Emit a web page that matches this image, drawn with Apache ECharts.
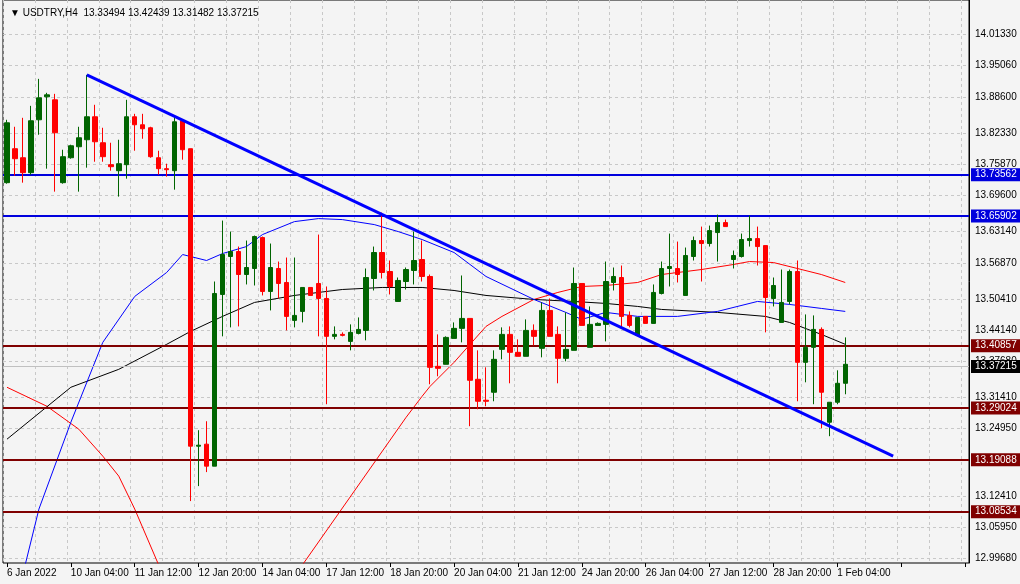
<!DOCTYPE html>
<html><head><meta charset="utf-8">
<script src="https://cdn.jsdelivr.net/npm/echarts@6/dist/echarts.min.js"></script>
<style>html,body{margin:0;padding:0;background:#f4f4f4}#c{width:1020px;height:584px}</style>
</head><body><div id="c"></div>
<script>
const openP = [13.7245,13.7900,13.7726,13.7438,13.8458,13.8901,13.8843,13.7245,13.7726,13.7938,13.8073,13.8516,13.8015,13.7592,13.7476,13.7592,13.8516,13.8362,13.8304,13.7726,13.7515,13.7476,13.8439,13.7900,13.2163,13.2202,13.1778,13.5089,13.5821,13.5917,13.5474,13.5590,13.6186,13.5147,13.5590,13.5320,13.4589,13.4762,13.5224,13.5301,13.5012,13.4281,13.4319,13.4184,13.4338,13.4396,13.5397,13.5898,13.5532,13.4954,13.5339,13.5551,13.5763,13.5436,13.3703,13.3742,13.4242,13.4435,13.4627,13.3453,13.3049,13.3203,13.4030,13.4319,13.3973,13.3896,13.4396,13.4050,13.4781,13.4319,13.3857,13.4011,13.5301,13.4069,13.4492,13.4512,13.5320,13.5416,13.4685,13.4300,13.4666,13.4531,13.5108,13.5590,13.5590,13.5070,13.5821,13.6129,13.6071,13.6283,13.6475,13.5763,13.5821,13.6129,13.6167,13.6032,13.5012,13.4550,13.4954,13.5532,13.3780,13.4069,13.4415,13.2625,13.3010,13.3376];
const closeP = [13.8400,13.7707,13.7438,13.8439,13.8881,13.8939,13.8208,13.7746,13.7957,13.8111,13.8516,13.8034,13.7746,13.7553,13.7611,13.8516,13.8362,13.8285,13.7746,13.7515,13.7495,13.8419,13.7880,13.2163,13.2182,13.1778,13.5108,13.5859,13.5917,13.5474,13.5609,13.6206,13.5147,13.5609,13.5301,13.4666,13.4685,13.5224,13.5070,13.5012,13.4281,13.4319,13.4300,13.4358,13.4415,13.5416,13.5898,13.5513,13.5243,13.5359,13.5570,13.5744,13.5436,13.3684,13.3665,13.4261,13.4435,13.4627,13.3434,13.3029,13.3029,13.3838,13.4319,13.3973,13.3896,13.4396,13.4281,13.4781,13.4281,13.3857,13.4030,13.5301,13.4492,13.4512,13.4531,13.5339,13.5436,13.4666,13.4492,13.4646,13.4531,13.5128,13.5590,13.5628,13.5474,13.5840,13.6129,13.6071,13.6321,13.6475,13.6398,13.5840,13.6148,13.6167,13.6013,13.5031,13.5262,13.4935,13.5532,13.3780,13.4069,13.4415,13.3203,13.3010,13.3376,13.3742];
const lowP = [13.7226,13.7380,13.7245,13.7399,13.8169,13.7515,13.7072,13.7226,13.7707,13.7072,13.7534,13.7649,13.7649,13.7476,13.6976,13.7322,13.7861,13.8092,13.7726,13.7399,13.7361,13.7110,13.7688,13.1104,13.1393,13.1663,13.1778,13.4281,13.4454,13.4473,13.5282,13.5262,13.5070,13.4781,13.5012,13.4396,13.4454,13.4550,13.5070,13.4281,13.2972,13.4223,13.4281,13.4011,13.4319,13.4204,13.5166,13.5397,13.5089,13.4954,13.5185,13.5282,13.5339,13.3357,13.3511,13.3742,13.4242,13.4165,13.2548,13.2875,13.2933,13.3029,13.3838,13.3376,13.3896,13.3896,13.4107,13.3876,13.4281,13.3376,13.3799,13.4011,13.4492,13.4069,13.4492,13.4184,13.5166,13.4454,13.4454,13.4300,13.4531,13.4531,13.5089,13.5243,13.5320,13.5070,13.5744,13.5339,13.6013,13.5724,13.6398,13.5590,13.5801,13.6013,13.5647,13.4358,13.4858,13.4550,13.4897,13.3029,13.3395,13.2972,13.2510,13.2356,13.2972,13.3164];
const highP = [13.8458,13.8323,13.8496,13.8727,13.9247,13.8978,13.8958,13.7880,13.7977,13.8323,13.9324,13.8747,13.8304,13.8015,13.8073,13.8843,13.8573,13.8573,13.8323,13.7861,13.7611,13.8516,13.8458,13.7900,13.2471,13.2644,13.5339,13.6514,13.6302,13.6013,13.6129,13.6225,13.6206,13.6071,13.5724,13.5801,13.5801,13.5224,13.5224,13.6244,13.5243,13.4473,13.4358,13.4512,13.4646,13.5590,13.6013,13.6668,13.5744,13.5416,13.5609,13.6302,13.6129,13.5474,13.4319,13.4281,13.4550,13.5455,13.4627,13.4011,13.3684,13.4011,13.4454,13.4473,13.4223,13.4608,13.4512,13.4935,13.5012,13.4473,13.4743,13.5609,13.5301,13.4858,13.4550,13.5724,13.5609,13.5647,13.4762,13.4646,13.4666,13.5282,13.5724,13.6263,13.6109,13.5994,13.6206,13.6398,13.6417,13.6629,13.6533,13.5936,13.6263,13.6610,13.6398,13.6032,13.5416,13.5570,13.5570,13.5744,13.4704,13.4685,13.4454,13.3010,13.3626,13.4261];

const timeLabels = ["6 Jan 2022","10 Jan 04:00","11 Jan 12:00","12 Jan 20:00","14 Jan 04:00","17 Jan 12:00","18 Jan 20:00","20 Jan 04:00","21 Jan 12:00","24 Jan 20:00","26 Jan 04:00","27 Jan 12:00","28 Jan 20:00","1 Feb 04:00"];
const priceTicks = [14.01330,13.95060,13.88600,13.82330,13.75870,13.69600,13.63140,13.56870,13.50410,13.44140,13.37680,13.31410,13.24950,13.18680,13.12410,13.05950,12.99680];

const maBlack = [[0,13.2298],[8,13.3299],[14,13.3645],[20,13.4127],[23,13.4377],[27,13.4666],[31,13.4935],[36,13.5070],[42,13.5185],[47,13.5224],[52,13.5224],[56,13.5166],[60,13.5070],[66,13.4993],[71,13.4954],[75,13.4916],[79,13.4858],[82,13.4800],[89,13.4743],[95,13.4666],[98,13.4550],[102,13.4319],[105,13.4127]];
const maBlue = [[2,12.9700],[4,13.0950],[8,13.2625],[12,13.4165],[16,13.5051],[20,13.5513],[22,13.5859],[25,13.5744],[27,13.5878],[30,13.6013],[32,13.6244],[36,13.6494],[39,13.6552],[42,13.6533],[46,13.6437],[49,13.6302],[52,13.6148],[56,13.5898],[60,13.5436],[66,13.4993],[70,13.4743],[72,13.4608],[75,13.4743],[79,13.4666],[84,13.4666],[89,13.4762],[94,13.4954],[98,13.4897],[102,13.4820],[105,13.4762]];
const maRed = [[0,13.3299],[5,13.2933],[9,13.2490],[12,13.1971],[14,13.1586],[16,13.0950],[19,12.9872],[20,12.9600],[21,null],[36,null],[37,12.9872],[50,13.2721],[52,13.3126],[53,13.3318],[56,13.3780],[60,13.4473],[62,13.4666],[66,13.4993],[69,13.5128],[72,13.5243],[75,13.5262],[79,13.5320],[82,13.5474],[87,13.5570],[91,13.5667],[93,13.5724],[96,13.5705],[99,13.5590],[102,13.5474],[105,13.5320]];
const trendLine = [[10,13.9324],[111,13.1971]];
const blueLevels = [13.73562,13.65902];
const redLevels = [13.40857,13.29024,13.19088,13.08534];
const lastPrice = 13.37215;

const NCAT = 121;
const cats = [];
for (let i = 0; i < NCAT; i++) cats.push(i % 8 === 0 && timeLabels[i/8] ? timeLabels[i/8] : '');
const candles = openP.map((o,i)=>[o, closeP[i], lowP[i], highP[i]]);
const F = 'Liberation Sans, Arial, sans-serif';

const gridLines = priceTicks.map(v=>({yAxis:v, lineStyle:{color:'#c8c8c8',type:[3,3],width:1},
  label:{show:true,position:'end',formatter:v.toFixed(5),color:'#000',fontSize:10,fontFamily:F,distance:6}}));
const boxLabel = (v,bg)=>({show:true,position:'end',formatter:v.toFixed(5),color:'#fff',backgroundColor:bg,padding:[2,4,1,4],fontSize:10,fontFamily:F,distance:2});
const levelLines = [].concat(
  blueLevels.map(v=>({yAxis:v,lineStyle:{color:'#0000dd',width:2,type:'solid'},label:boxLabel(v,'#0000dd')})),
  redLevels.map(v=>({yAxis:v,lineStyle:{color:'#800000',width:2,type:'solid'},label:boxLabel(v,'#800000')})),
  [{yAxis:lastPrice,lineStyle:{color:'#c0c0c0',width:1,type:'solid'},label:boxLabel(lastPrice,'#000')}]
);

const chart = echarts.init(document.getElementById('c'));
chart.setOption({
  backgroundColor:'#f4f4f4',
  animation:false,
  title:{text:'▼ USDTRY,H4  13.33494 13.42439 13.31482 13.37215',left:5,top:3,
    textStyle:{fontSize:10,fontWeight:'normal',color:'#000',fontFamily:F}},
  grid:{left:3,right:51,top:0,bottom:21,show:true,borderColor:'#000',borderWidth:1,backgroundColor:'#f4f4f4'},
  xAxis:{type:'category',data:cats,boundaryGap:true,
    axisLine:{show:false},
    axisTick:{show:true,interval:7,alignWithLabel:true,length:4,lineStyle:{color:'#000'}},
    axisLabel:{interval:7,align:'left',color:'#000',fontSize:10,fontFamily:F,margin:5},
    splitLine:{show:true,interval:3,lineStyle:{color:'#c8c8c8',type:[3,3]}}},
  yAxis:{type:'value',position:'right',min:12.9910,max:14.0768,scale:true,
    axisLine:{show:true,lineStyle:{color:'#000'}},axisTick:{show:false},
    axisLabel:{show:false},splitLine:{show:false}},
  series:[
    {type:'line',data:[],markLine:{silent:true,symbol:'none',z:1,data:gridLines},z:1},
    {type:'line',data:maRed,showSymbol:false,connectNulls:false,lineStyle:{color:'#ff0000',width:1},itemStyle:{color:'#ff0000'},clip:true,z:3},
    {type:'line',data:maBlack,showSymbol:false,lineStyle:{color:'#000',width:1},itemStyle:{color:'#000'},z:3},
    {type:'line',data:maBlue,showSymbol:false,lineStyle:{color:'#0000ff',width:1},itemStyle:{color:'#0000ff'},clip:true,z:3},
    {type:'line',data:[],markLine:{silent:true,symbol:'none',data:levelLines},z:4},
    {type:'candlestick',data:candles,barWidth:5,z:5,
      itemStyle:{color:'#006400',color0:'#ff0000',borderColor:'#006400',borderColor0:'#ff0000',borderWidth:1}},
    {type:'line',data:trendLine,showSymbol:false,lineStyle:{color:'#0000ff',width:3},z:6}
  ]
});
</script></body></html>
